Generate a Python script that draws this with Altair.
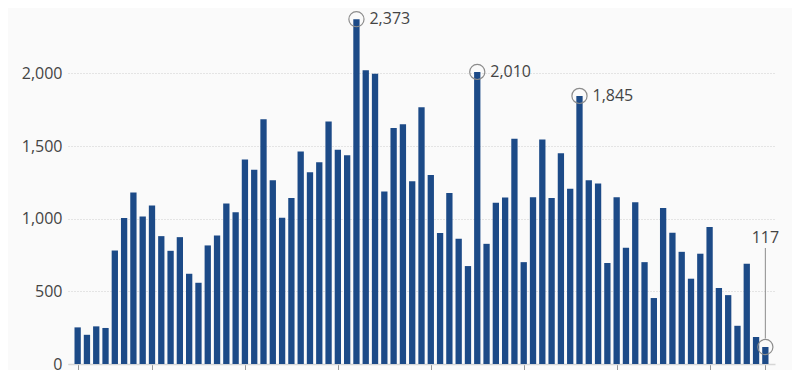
import altair as alt
import pandas as pd

# Bar values (left to right)
values = [252, 201, 259, 248, 781, 1004, 1180, 1015, 1091, 880,
          779, 873, 621, 559, 816, 885, 1105, 1045, 1407, 1336,
          1685, 1265, 1006, 1142, 1462, 1320, 1389, 1669, 1474, 1437,
          2373, 2022, 1997, 1187, 1625, 1650, 1258, 1767, 1300, 901,
          1176, 862, 674, 2010, 827, 1109, 1146, 1550, 701, 1148,
          1545, 1142, 1451, 1206, 1845, 1265, 1242, 695, 1148, 800,
          1114, 701, 454, 1073, 903, 772, 587, 759, 942, 523,
          474, 263, 690, 186, 117]
index = list(range(len(values)))

# Highlighted peaks (right-side labels)
peak_index = [30, 43, 54]
peak_labels = ["2,373", "2,010", "1,845"]
# Last value (label above)
last_index = [74]
last_labels = ["117"]

x_ticks = [0, 8, 18, 28, 38, 48, 58, 68, 74]
y_ticks = [0, 500, 1000, 1500, 2000]

df = pd.DataFrame({"i": index, "v": values})
peaks = pd.DataFrame({"i": peak_index, "v": [values[k] for k in peak_index], "t": peak_labels})
last = pd.DataFrame({"i": last_index, "v": [values[k] for k in last_index], "t": last_labels})
circles = pd.concat([peaks, last], ignore_index=True)

FONT = "Open Sans"
BLUE = "#1c4a87"

x = alt.X("i:Q", scale=alt.Scale(domain=[-0.5, 74.5], nice=False, zero=False),
          axis=alt.Axis(values=x_ticks, labels=False, title=None, grid=False,
                        domainColor="#d6d6d6", domainWidth=1.5,
                        tickColor="#999999", tickSize=6, tickWidth=1))
y = alt.Y("v:Q", scale=alt.Scale(domain=[0, 2450], nice=False),
          axis=alt.Axis(values=y_ticks, title=None, format=",.0f", domain=False, ticks=False,
                        labelPadding=6, labelFontSize=16, labelFont=FONT,
                        labelColor="#444444", gridColor="#cfcfcf", gridDash=[1, 2],
                        gridWidth=1))

bars = alt.Chart(df).mark_bar(width=6.3, color=BLUE).encode(x=x, y=y)

rings = alt.Chart(circles).mark_point(shape="circle", size=230, filled=False,
                                      color="#8c8c8c", strokeWidth=1.2, opacity=1).encode(
    x=alt.X("i:Q"), y=alt.Y("v:Q"))

peak_text = alt.Chart(peaks).mark_text(align="left", baseline="middle", dx=13,
                                       fontSize=16, font=FONT, color="#444444").encode(
    x="i:Q", y="v:Q", text="t:N")

last_rule = alt.Chart(last).mark_rule(color="#8c8c8c", strokeWidth=1,
                                      yOffset=-8.5, y2Offset=-99).encode(
    x="i:Q", y="v:Q", y2="v:Q")

last_text = alt.Chart(last).mark_text(align="center", baseline="middle", dy=-109,
                                      fontSize=16, font=FONT, color="#444444").encode(
    x="i:Q", y="v:Q", text="t:N")

chart = alt.layer(bars, rings, peak_text, last_rule, last_text).properties(
    width=707, height=356,
    background="#fafafa",
    padding={"left": 60, "top": 0, "right": 17, "bottom": 14},
    autosize=alt.AutoSizeParams(type="none"),
).configure_view(stroke=None)

chart.save("out.html", embed_options={"renderer": "svg", "actions": False})
